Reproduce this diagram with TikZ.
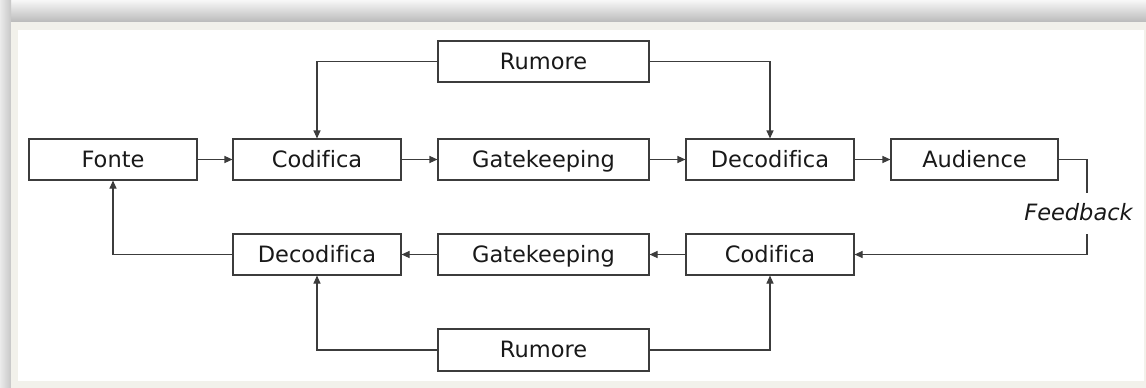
\documentclass[tikz,border=0pt]{standalone}
\usepackage{fontspec}
\setmainfont[Ligatures=NoCommon]{DejaVu Sans}
\usetikzlibrary{arrows.meta}
\definecolor{panelbg}{RGB}{242,241,235}
\definecolor{linec}{RGB}{60,60,60}
\definecolor{textc}{RGB}{25,25,25}
\begin{document}
\begin{tikzpicture}[x=1pt,y=-1pt,
  lbl/.style={text=textc,font=\fontsize{22.5}{26}\selectfont,text height=15pt,text depth=0pt},
  box/.style={lbl,draw=linec,line width=1.1pt,fill=white,inner sep=0pt,
    minimum height=41pt},
  narrow/.style={box,minimum width=168pt},
  wide/.style={box,minimum width=211pt},
  conn/.style={draw=linec,line width=1.1pt},
  arr/.style={conn,-{Triangle[length=8pt,width=7pt]}}]
\useasboundingbox (0,0) rectangle (1146,388);
% frame
\shade[top color=black!3,bottom color=black!27] (0,0) rectangle (1146,22);
\shade[left color=black!8,right color=black!22] (0,0) rectangle (11,388);
\fill[panelbg] (11,22) rectangle (1146,388);
\fill[white] (18,30) rectangle (1144,381);
% top row
\node[narrow] (fonte) at (113,159.5) {Fonte};
\node[narrow] (cod1) at (317,159.5) {Codifica};
\node[wide] (gk1) at (543.5,159.5) {Gatekeeping};
\node[narrow] (dec1) at (770,159.5) {Decodifica};
\node[box,minimum width=167pt] (aud) at (974.5,159.5) {Audience};
\node[wide] (rum1) at (543.5,61.5) {Rumore};
% bottom row
\node[narrow] (dec2) at (317,254.5) {Decodifica};
\node[wide] (gk2) at (543.5,254.5) {Gatekeeping};
\node[narrow] (cod2) at (770,254.5) {Codifica};
\node[wide,minimum height=42pt] (rum2) at (543.5,350) {Rumore};
% feedback label
\node[lbl,inner sep=0pt,font=\fontsize{22.5}{26}\selectfont\itshape] (fb) at (1078.5,213) {Feedback};
\coordinate (fbT) at (1087,193);
\coordinate (fbB) at (1087,234);
% connectors
\draw[arr] (fonte) -- (cod1);
\draw[arr] (cod1) -- (gk1);
\draw[arr] (gk1) -- (dec1);
\draw[arr] (dec1) -- (aud);
\draw[arr] (rum1.west) -| (cod1.north);
\draw[arr] (rum1.east) -| (dec1.north);
\draw[conn] (aud.east) -| (fbT);
\draw[arr] (fbB) |- (cod2.east);
\draw[arr] (cod2) -- (gk2);
\draw[arr] (gk2) -- (dec2);
\draw[arr] (dec2.west) -| (fonte.south);
\draw[arr] (rum2.west) -| (dec2.south);
\draw[arr] (rum2.east) -| (cod2.south);
\end{tikzpicture}
\end{document}
